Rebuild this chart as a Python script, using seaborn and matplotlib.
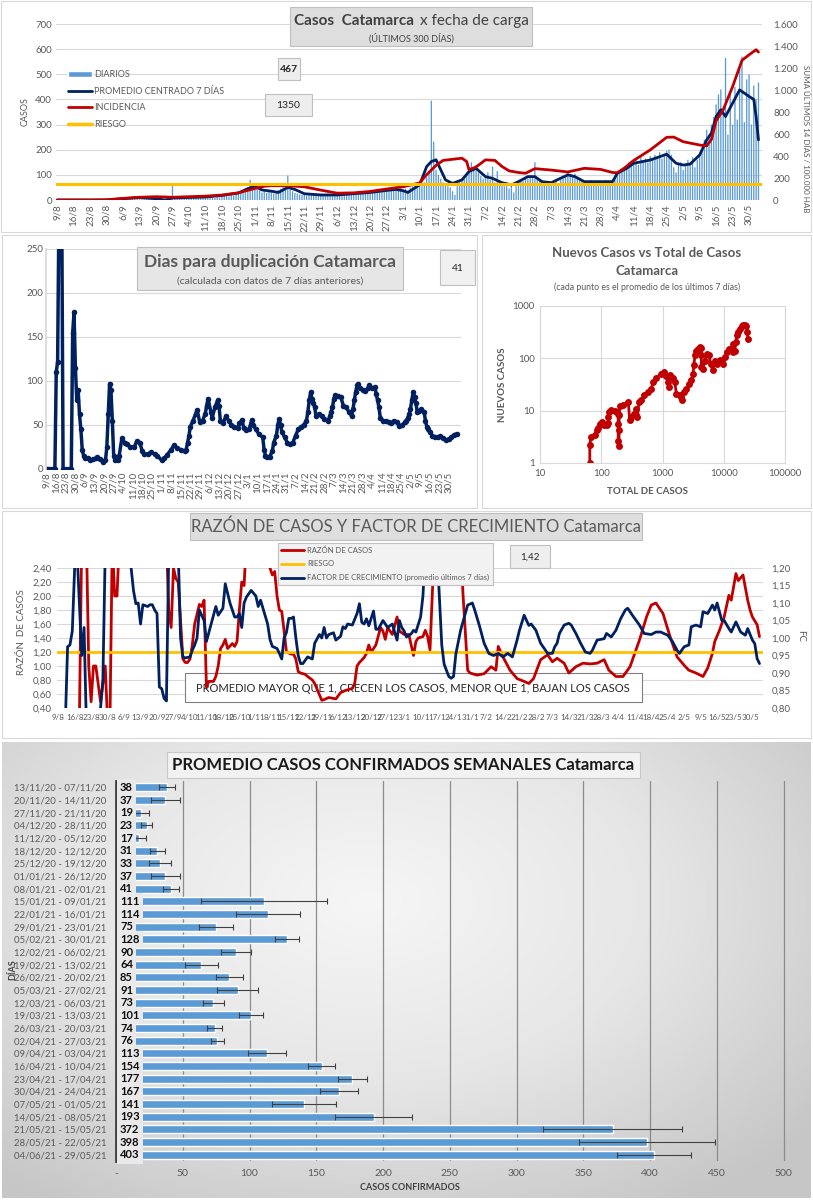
import numpy as np
import pandas as pd
import matplotlib
matplotlib.use('Agg')
import matplotlib.pyplot as plt
import seaborn as sns
from matplotlib.patches import Rectangle, Patch
from matplotlib.lines import Line2D
from matplotlib.colors import LinearSegmentedColormap
from matplotlib.ticker import FuncFormatter

# ---------------- datos ----------------
inicio = '2020-08-09'   # dia 0 = 9/8

# casos diarios (una fila por semana, desde 9/8)
diarios = [
    0, 0, 0, 0, 1, 0, 0,
    0, 0, 0, 1, 0, 0, 0,
    0, 0, 1, 0, 0, 0, 0,
    1, 0, 2, 3, 5, 4, 6,
    8, 5, 6, 4, 7, 9, 6,
    10, 12, 8, 9, 14, 11, 15,
    12, 9, 6, 4, 3, 5, 8,
    62, 10, 12, 14, 9, 11, 13,
    8, 10, 12, 9, 11, 13, 10,
    12, 9, 14, 11, 8, 13, 10,
    15, 18, 20, 14, 22, 19, 24,
    28, 32, 30, 45, 52, 80, 55,
    60, 42, 38, 30, 35, 28, 33,
    30, 25, 36, 40, 45, 52, 48,
    97, 40, 35, 28, 25, 22, 20,
    24, 18, 22, 20, 19, 23, 17,
    20, 18, 21, 25, 19, 22, 20,
    18, 24, 22, 20, 26, 23, 28,
    30, 25, 28, 32, 27, 35, 30,
    33, 38, 30, 35, 40, 36, 38,
    42, 35, 40, 48, 65, 38, 45,
    40, 45, 38, 50, 55, 60, 70,
    60, 55, 70, 90, 110, 395, 232,
    120, 100, 85, 70, 60, 55, 50,
    35, 20, 55, 70, 80, 95, 110,
    130, 150, 120, 140, 110, 95, 85,
    90, 110, 80, 133, 70, 115, 65,
    60, 55, 70, 45, 60, 30, 55,
    65, 80, 75, 90, 85, 100, 95,
    150, 90, 85, 80, 75, 70, 60,
    65, 70, 75, 60, 80, 85, 95,
    110, 95, 100, 105, 90, 85, 80,
    75, 70, 65, 80, 72, 68, 78,
    70, 75, 80, 68, 72, 60, 85,
    100, 110, 120, 130, 125, 150, 140,
    145, 160, 140, 170, 155, 165, 150,
    175, 160, 180, 170, 190, 165, 185,
    195, 200, 180, 130, 110, 140, 150,
    120, 140, 160, 150, 170, 130, 160,
    180, 200, 240, 280, 260, 300, 330,
    380, 420, 440, 350, 565, 260, 420,
    300, 450, 320, 520, 570, 310, 480,
    500, 300, 455, 400, 467]

# promedio centrado 7 dias (eje izquierdo)
prom_dia = [0, 21, 28, 35, 42, 46, 49, 56, 63, 70,
            77, 81, 84, 87, 91, 94, 98, 101, 105, 112,
            119, 126, 133, 140, 144, 147, 149, 154, 157, 159,
            161, 163, 165, 168, 172, 175, 178, 182, 185, 189,
            193, 196, 200, 203, 206, 210, 217, 220, 224, 231,
            236, 238, 242, 245, 252, 259, 263, 266, 269, 273,
            276, 278, 280, 282, 284, 287, 290, 292, 294, 296,
            297, 298]
prom_val = [0, 0, 5, 10, 5, 0, 8, 10, 12, 18,
            28, 45, 55, 40, 35, 30, 50, 42, 25, 20,
            20, 25, 30, 38, 42, 37, 30, 60, 133, 153,
            160, 120, 80, 66, 80, 113, 126, 93, 86, 69,
            60, 73, 93, 93, 73, 69, 100, 93, 73, 73,
            73, 106, 126, 146, 159, 182, 146, 139, 143, 179,
            239, 266, 332, 359, 332, 385, 438, 425, 412, 400,
            332, 239]

# incidencia 14 dias / 100.000 hab (eje derecho)
inc_dia = [0, 14, 21, 28, 35, 42, 49, 56, 63, 70,
           77, 84, 88, 91, 98, 105, 112, 119, 126, 133,
           140, 147, 154, 157, 161, 164, 168, 172, 174, 175,
           178, 182, 186, 189, 192, 196, 199, 203, 210, 217,
           224, 231, 236, 238, 241, 245, 252, 259, 262, 266,
           273, 276, 278, 280, 283, 287, 291, 294, 297, 298]
inc_val = [0, 0, 2, 15, 25, 30, 25, 30, 35, 45,
           65, 105, 125, 130, 130, 120, 90, 62, 65, 78,
           100, 120, 155, 230, 315, 360, 370, 380, 350, 275,
           300, 365, 360, 305, 265, 250, 243, 285, 272, 255,
           288, 278, 250, 248, 290, 360, 455, 570, 572, 530,
           500, 492, 550, 720, 820, 1030, 1270, 1320, 1366, 1345]
riesgo_inc = 150

# dias para duplicacion
dup_dia = [0, 2, 4, 6, 7, 8, 9, 11, 12, 14,
           16, 18, 19, 20, 21, 22, 23, 24, 25, 26,
           27, 28, 30, 32, 34, 36, 37, 39, 41, 43,
           44, 45, 46, 47, 48, 49, 50, 52, 53, 55,
           57, 59, 61, 64, 66, 68, 70, 71, 74, 76,
           79, 81, 84, 86, 88, 91, 93, 95, 98, 101,
           102, 103, 104, 105, 107, 109, 110, 112, 114, 116,
           117, 118, 120, 121, 123, 125, 126, 127, 129, 131,
           133, 135, 137, 140, 141, 143, 144, 146, 148, 150,
           151, 153, 155, 158, 159, 160, 161, 163, 165, 166,
           168, 169, 170, 171, 172, 174, 176, 178, 180, 182,
           184, 186, 188, 190, 191, 192, 193, 194, 195, 196,
           197, 199, 201, 203, 206, 207, 208, 209, 210, 211,
           213, 215, 217, 219, 221, 223, 224, 225, 226, 227,
           228, 229, 231, 233, 235, 236, 238, 240, 241, 242,
           243, 244, 246, 248, 250, 252, 254, 256, 258, 260,
           262, 263, 264, 265, 266, 267, 268, 269, 270, 271,
           272, 274, 276, 277, 278, 279, 280, 282, 284, 286,
           288, 290, 292, 294, 296, 298, 300]
dup_val = [0, 0, 0, 0, 110, 122, 300, 300, 0, 0,
           0, 0, 155, 178, 115, 78, 90, 62, 45, 22,
           15, 13, 12, 10, 11, 12, 14, 11, 8, 10,
           25, 62, 97, 90, 55, 15, 10, 10, 15, 35,
           30, 28, 25, 25, 32, 30, 20, 17, 17, 19,
           17, 15, 10, 12, 16, 22, 27, 24, 22, 20,
           22, 30, 37, 48, 55, 63, 67, 53, 55, 63,
           72, 80, 65, 58, 70, 78, 72, 55, 52, 60,
           55, 50, 48, 47, 52, 56, 47, 44, 45, 56,
           50, 45, 40, 36, 22, 15, 14, 14, 20, 30,
           38, 50, 57, 50, 42, 36, 30, 28, 30, 38,
           45, 48, 50, 55, 65, 78, 87, 80, 75, 70,
           60, 62, 60, 57, 55, 60, 65, 70, 80, 84,
           83, 82, 72, 70, 65, 60, 68, 78, 88, 95,
           97, 92, 90, 89, 92, 95, 92, 93, 85, 78,
           70, 58, 55, 54, 53, 52, 55, 53, 49, 50,
           53, 55, 58, 62, 68, 78, 87, 82, 75, 65,
           66, 68, 65, 55, 48, 45, 42, 38, 36, 36,
           37, 35, 33, 34, 36, 39, 40]

# nuevos casos vs total
total_casos = [65, 65, 68, 79, 84, 89, 95, 101, 110, 122,
               130, 130, 134, 147, 167, 189, 189, 189, 194, 196,
               196, 201, 228, 276, 292, 311, 340, 375, 375, 386,
               415, 452, 500, 583, 660, 701, 796, 963, 1051, 1162,
               1237, 1264, 1341, 1490, 1583, 1689, 1908, 2034, 2100, 2213,
               2436, 2727, 2963, 3163, 3237, 3398, 3500, 3800, 4145, 4300,
               4300, 4300, 4560, 4850, 5230, 5750, 6110, 6660, 7090, 7770,
               8580, 9200, 9800, 10400, 11100, 12300, 13400, 14300, 14300, 15200,
               15700, 16500, 17100, 18300, 19500, 20600, 21900, 23300, 24100, 24800]
nuevos_casos = [1, 2.24, 3.1, 3.4, 4.2, 4.7, 5.6, 6.1, 5.4, 5.4,
                5.9, 7.6, 9.4, 10.1, 9.8, 8.8, 5.6, 2.6, 2.1, 4.2,
                8.1, 12.3, 13, 14.6, 6.5, 7.6, 8.8, 8.4, 10.9, 7.6,
                14.6, 15.8, 20, 22.7, 26.3, 35.3, 42, 51, 55, 46,
                35, 28, 47, 42, 35, 21, 19.6, 18, 15.8, 22.7,
                26, 33, 38, 51, 73, 114, 141, 148, 165, 160,
                114, 68, 63, 87, 122, 114, 79, 59, 87, 79,
                92, 85, 79, 106, 132, 148, 153, 191, 135, 141,
                204, 275, 318, 369, 414, 426, 426, 414, 318, 238]

# razon de casos (eje izq.) y factor de crecimiento (eje der.)
razon_dia = [9, 10, 12, 13, 14, 15, 16, 18, 20, 21,
             22, 23, 24, 25, 26, 45, 46, 47, 48, 49,
             50, 51, 53, 54, 55, 56, 57, 58, 60, 61,
             62, 63, 64, 66, 67, 68, 69, 70, 71, 72,
             74, 75, 76, 77, 78, 79, 80, 89, 90, 91,
             92, 93, 94, 95, 96, 97, 99, 100, 101, 102,
             103, 105, 106, 108, 109, 112, 113, 115, 118, 120,
             122, 125, 126, 127, 128, 130, 131, 132, 133, 135,
             137, 138, 139, 140, 142, 144, 145, 147, 149, 151,
             152, 153, 155, 156, 157, 158, 159, 160, 171, 172,
             174, 175, 178, 181, 184, 186, 187, 189, 192, 195,
             198, 200, 202, 205, 208, 210, 212, 215, 217, 220,
             223, 226, 229, 232, 234, 237, 240, 243, 245, 247,
             250, 252, 254, 257, 260, 263, 266, 268, 271, 274,
             276, 278, 279, 281, 283, 285, 286, 288, 289, 291,
             293, 294, 295, 297, 298]
razon_val = [0.2, 2.8, 2.8, 1.0, 0.49, 1.0, 1.0, 0.49, 1.0, 0.2,
             0.2, 2.8, 2.0, 2.0, 2.8, 2.8, 2.8, 1.78, 1.55, 2.4,
             2.25, 2.2, 1.1, 1.05, 1.05, 1.1, 1.3, 1.6, 1.88, 1.85,
             1.94, 0.7, 0.78, 0.78, 0.85, 1.0, 1.25, 1.3, 1.38, 1.25,
             1.32, 1.28, 1.35, 1.8, 2.2, 2.15, 2.8, 2.8, 2.4, 2.3,
             2.35, 2.0, 1.8, 1.78, 1.5, 1.2, 1.17, 1.17, 1.1, 0.92,
             0.9, 0.88, 0.85, 0.8, 0.75, 0.51, 0.52, 0.55, 0.53, 0.62,
             0.65, 0.68, 0.75, 1.0, 1.05, 1.12, 1.18, 1.3, 1.2, 1.3,
             1.55, 1.5, 1.38, 1.55, 1.45, 1.7, 1.5, 1.45, 1.45, 1.15,
             1.35, 1.4, 1.42, 1.51, 1.42, 1.23, 2.04, 2.8, 2.8, 2.04,
             0.94, 0.9, 0.87, 0.89, 0.99, 0.94, 1.28, 1.13, 0.94, 0.82,
             0.78, 0.75, 0.82, 1.09, 1.16, 1.06, 1.11, 1.04, 0.9, 0.99,
             1.04, 1.03, 1.04, 1.09, 0.94, 0.85, 0.85, 0.99, 1.18, 1.37,
             1.7, 1.87, 1.9, 1.75, 1.42, 1.13, 1.01, 0.94, 0.9, 0.85,
             0.97, 1.18, 1.35, 1.51, 1.7, 2.01, 1.94, 2.32, 2.22, 2.3,
             1.94, 1.8, 1.7, 1.59, 1.42]
fc_dia = [3, 4, 5, 6, 7, 8, 9, 10, 11, 12,
          17, 18, 19, 20, 30, 31, 32, 33, 34, 35,
          36, 38, 39, 40, 41, 42, 43, 44, 45, 46,
          47, 51, 52, 53, 54, 56, 57, 58, 59, 60,
          62, 63, 64, 65, 67, 68, 70, 71, 73, 75,
          76, 77, 78, 79, 80, 82, 84, 85, 86, 89,
          90, 91, 93, 94, 95, 96, 97, 98, 99, 100,
          101, 102, 103, 104, 106, 108, 109, 111, 112, 113,
          114, 115, 117, 118, 120, 121, 122, 123, 125, 127,
          128, 129, 130, 131, 132, 134, 135, 136, 138, 140,
          142, 143, 144, 145, 146, 147, 148, 150, 151, 152,
          154, 155, 156, 161, 163, 164, 166, 167, 168, 169,
          171, 174, 176, 177, 179, 181, 183, 185, 187, 189,
          191, 193, 195, 196, 198, 200, 201, 203, 205, 208,
          210, 211, 212, 213, 215, 217, 218, 220, 222, 224,
          226, 227, 229, 232, 233, 235, 237, 239, 241, 242,
          244, 247, 249, 252, 254, 256, 259, 261, 263, 264,
          266, 268, 269, 271, 273, 274, 276, 278, 279, 280,
          282, 283, 285, 286, 288, 290, 292, 293, 295, 296,
          297, 298]
fc_val = [0.75, 0.975, 0.98, 1.02, 1.2, 1.25, 1.1, 0.95, 1.03, 0.75,
          0.75, 0.8, 0.88, 1.25, 1.25, 1.2, 1.136, 1.098, 1.1, 1.04,
          1.095, 1.09, 1.095, 1.095, 1.08, 1.07, 0.86, 0.855, 0.828, 0.82,
          1.25, 1.25, 1.0, 0.946, 0.943, 0.946, 0.965, 0.98, 1.0, 1.08,
          1.05, 0.99, 1.015, 1.04, 1.09, 1.065, 1.085, 1.155, 1.1, 1.06,
          1.06, 1.07, 1.03, 1.1, 1.117, 1.136, 1.12, 1.09, 1.108, 1.04,
          0.996, 0.976, 0.97, 0.956, 0.94, 1.0, 1.016, 1.056, 1.056, 1.06,
          1.0, 0.95, 0.927, 0.927, 0.946, 0.94, 0.985, 1.01, 1.0, 1.03,
          1.0, 1.01, 1.015, 0.994, 1.005, 1.032, 1.027, 1.04, 1.037, 1.07,
          1.098, 1.045, 1.04, 1.055, 1.035, 1.077, 1.025, 1.025, 1.05, 1.03,
          1.04, 1.016, 0.994, 1.05, 1.03, 1.02, 1.003, 1.012, 1.022, 1.017,
          1.06, 1.12, 1.25, 1.25, 0.98, 0.925, 0.89, 0.885, 0.89, 0.955,
          1.022, 1.094, 1.1, 1.08, 1.035, 0.985, 0.956, 0.95, 0.956, 0.946,
          0.956, 0.946, 0.994, 1.022, 1.065, 1.036, 1.04, 1.022, 0.985, 0.956,
          0.956, 0.975, 0.985, 1.013, 1.037, 1.042, 1.037, 1.013, 0.985, 0.96,
          0.956, 0.965, 0.994, 0.998, 1.013, 1.003, 1.022, 1.055, 1.08, 1.085,
          1.065, 1.037, 1.013, 1.01, 1.017, 1.017, 1.008, 0.99, 0.965, 0.956,
          0.975, 0.98, 1.032, 1.037, 1.032, 1.075, 1.07, 1.094, 1.08, 1.1,
          1.05, 1.05, 1.027, 1.017, 1.046, 1.017, 1.008, 1.027, 0.994, 0.984,
          0.941, 0.927]
riesgo_razon = 1.20

# promedio semanal
semanas = ['13/11/20 - 07/11/20', '20/11/20 - 14/11/20', '27/11/20 - 21/11/20',
           '04/12/20 - 28/11/20', '11/12/20 - 05/12/20', '18/12/20 - 12/12/20',
           '25/12/20 - 19/12/20', '01/01/21 - 26/12/20', '08/01/21 - 02/01/21',
           '15/01/21 - 09/01/21', '22/01/21 - 16/01/21', '29/01/21 - 23/01/21',
           '05/02/21 - 30/01/21', '12/02/21 - 06/02/21', '19/02/21 - 13/02/21',
           '26/02/21 - 20/02/21', '05/03/21 - 27/02/21', '12/03/21 - 06/03/21',
           '19/03/21 - 13/03/21', '26/03/21 - 20/03/21', '02/04/21 - 27/03/21',
           '09/04/21 - 03/04/21', '16/04/21 - 10/04/21', '23/04/21 - 17/04/21',
           '30/04/21 - 24/04/21', '07/05/21 - 01/05/21', '14/05/21 - 08/05/21',
           '21/05/21 - 15/05/21', '28/05/21 - 22/05/21', '04/06/21 - 29/05/21']
promedio = [38, 37, 19, 23, 17, 31, 33, 37, 41, 111, 114, 75, 128, 90, 64,
            85, 91, 73, 101, 74, 76, 113, 154, 177, 167, 141, 193, 372, 398, 403]
error = [6, 11, 6, 4, 5.5, 5.5, 8, 11, 6, 47, 24, 12.5, 9, 11, 12.5,
         10, 15, 8, 9, 5.6, 5, 14, 10, 11, 14, 24, 29, 52, 51, 28]

# ---------------- estilo ----------------
sns.set_theme(style='white')
plt.rcParams['font.family'] = ['Lato', 'DejaVu Sans']

GRIS = '#595959'
AZUL = '#5b9bd5'
MARINO = '#002060'
ROJO = '#c00000'
AMARILLO = '#ffc000'
GRILLA = '#d9d9d9'

W, H = 813, 1200
fig = plt.figure(figsize=(W / 100, H / 100), dpi=100)


def px_axes(x0, y0, x1, y1):
    return fig.add_axes([x0 / W, 1 - y1 / H, (x1 - x0) / W, (y1 - y0) / H])


def caja(x0, y0, x1, y1, fc, ec='#bfbfbf', z=2):
    fig.patches.append(Rectangle((x0 / W, 1 - y1 / H), (x1 - x0) / W, (y1 - y0) / H,
                                 transform=fig.transFigure, fc=fc, ec=ec, lw=0.8, zorder=z))


def texto(x, y, s, **kw):
    kw.setdefault('ha', 'center')
    kw.setdefault('va', 'center')
    fig.text(x / W, 1 - y / H, s, **kw)


miles = FuncFormatter(lambda v, p: f'{v:,.0f}'.replace(',', '.'))
coma2 = FuncFormatter(lambda v, p: f'{v:.2f}'.replace('.', ','))

semana_tick = np.arange(0, 295, 7)
fechas = pd.Timestamp(inicio) + pd.to_timedelta(semana_tick, unit='D')
etiq_fecha = [f'{d.day}/{d.month}' for d in fechas]

# bordes de los paneles
for b in [(1, 1, 811, 232), (2, 235, 477, 508), (482, 235, 811, 508), (2, 511, 811, 738)]:
    caja(*b, fc='none', ec=GRILLA, z=1)

# ---------------- panel 1: casos diarios ----------------
ax1 = px_axes(56, 24, 762, 200)
ax1.bar(np.arange(len(diarios)), diarios, width=0.55, color=AZUL, lw=0, snap=False, zorder=2)
sns.lineplot(x=prom_dia, y=prom_val, ax=ax1, color=MARINO, lw=2, zorder=3)
ax1.set_xlim(-0.5, 299.5)
ax1.set_ylim(0, 700)
ax1.set_yticks(range(0, 701, 100))
ax1.grid(axis='y', color=GRILLA, lw=0.8)
ax1.set_axisbelow(True)
ax1.set_xticks(semana_tick)
ax1.set_xticklabels(etiq_fecha, rotation=90, fontsize=6.5, color=GRIS)
ax1.tick_params(axis='both', length=0, labelsize=7, labelcolor=GRIS, pad=3)
for s in ax1.spines.values():
    s.set_visible(False)
ax1.set_ylabel('CASOS', fontsize=6.5, color=GRIS, labelpad=4)

ax1r = ax1.twinx()
sns.lineplot(x=inc_dia, y=inc_val, ax=ax1r, color=ROJO, lw=2)
ax1r.axhline(riesgo_inc, color=AMARILLO, lw=2.2)
ax1r.set_ylim(0, 1600)
ax1r.set_yticks(range(0, 1601, 200))
ax1r.yaxis.set_major_formatter(miles)
ax1r.tick_params(axis='y', length=0, labelsize=7, labelcolor=GRIS, pad=8)
ax1r.grid(False)
for s in ax1r.spines.values():
    s.set_visible(False)

h1 = [Patch(fc=AZUL), Line2D([], [], color=MARINO, lw=2),
      Line2D([], [], color=ROJO, lw=2), Line2D([], [], color=AMARILLO, lw=2.5)]
fig.legend(h1, ['DIARIOS', 'PROMEDIO CENTRADO 7 DÍAS', 'INCIDENCIA', 'RIESGO'],
           loc='upper left', bbox_to_anchor=(60 / W, 1 - 62 / H), frameon=False,
           fontsize=6.5, labelcolor=GRIS, handlelength=2.6, labelspacing=0.85,
           handletextpad=0.3)

caja(290, 7, 532, 46, '#dedede')
texto(414, 21, 'Casos  Catamarca', ha='right', fontsize=11, fontweight='bold', color='#404040', zorder=5)
texto(420, 21, 'x fecha de carga', ha='left', fontsize=11, color='#404040', zorder=5)
texto(411, 38, '(ÚLTIMOS 300 DÍAS)', fontsize=6.5, color='#404040', zorder=5)
caja(278, 58, 300, 80, '#eeeeee')
texto(289, 69, '467', fontsize=7.5, fontweight='bold', color='#262626', zorder=5)
caja(265, 94, 312, 116, '#eeeeee')
texto(288.5, 105, '1350', fontsize=7.5, color='#262626', zorder=5)
texto(806, 139, 'SUMA ÚLTIMOS 14 DÍAS / 100.000 HAB', rotation=-90, fontsize=5.8, color=GRIS)

# ---------------- panel 2: dias para duplicacion ----------------
ax2 = px_axes(46, 249, 461, 469)
sns.lineplot(x=dup_dia, y=dup_val, ax=ax2, color=MARINO, lw=2.5, marker='o',
             markersize=4, markeredgewidth=0)
ax2.set_xlim(-0.5, 303)
ax2.set_ylim(0, 250)
ax2.set_yticks(range(0, 251, 50))
ax2.grid(axis='y', color=GRILLA, lw=0.8)
ax2.set_axisbelow(True)
ax2.set_xticks(semana_tick)
ax2.set_xticklabels(etiq_fecha, rotation=90, fontsize=6, color=GRIS)
ax2.tick_params(axis='both', length=0, labelsize=7, labelcolor=GRIS, pad=2)
for s in ax2.spines.values():
    s.set_visible(False)
ax2.spines['left'].set_visible(True)
ax2.spines['left'].set_color(GRILLA)

caja(137, 247, 403, 290, '#e6e6e6')
texto(270, 262, 'Dias para duplicación Catamarca', fontsize=12.5, fontweight='bold', color=GRIS, zorder=5)
texto(270, 281, '(calculada con datos de 7 días anteriores)', fontsize=7.5, color=GRIS, zorder=5)
caja(440, 250, 475, 285, '#f0f0f0')
texto(457.5, 268, '41', fontsize=7.5, color='#262626', zorder=5)

# ---------------- panel 3: nuevos vs total ----------------
ax3 = px_axes(540, 306, 785, 463)
sns.lineplot(x=total_casos, y=nuevos_casos, ax=ax3, sort=False, estimator=None,
             color=ROJO, lw=2, marker='o', markersize=5, markeredgewidth=0)
ax3.set_xscale('log')
ax3.set_yscale('log')
ax3.set_xlim(10, 1e5)
ax3.set_ylim(1, 1000)
ax3.minorticks_off()
fmt_log = FuncFormatter(lambda v, p: f'{v:.0f}')
ax3.xaxis.set_major_formatter(fmt_log)
ax3.yaxis.set_major_formatter(fmt_log)
ax3.grid(True, color=GRILLA, lw=0.8)
ax3.tick_params(axis='both', length=0, labelsize=7, labelcolor=GRIS, pad=4)
for s in ax3.spines.values():
    s.set_color(GRILLA)
    s.set_linewidth(0.8)
texto(647, 253, 'Nuevos Casos vs Total de Casos', fontsize=9.5, fontweight='bold', color=GRIS)
texto(647, 271, 'Catamarca', fontsize=9.5, fontweight='bold', color=GRIS)
texto(647, 287, '(cada punto es el promedio de los últimos 7 días)', fontsize=6.3, color=GRIS)
texto(647, 492, 'TOTAL DE CASOS', fontsize=7, fontweight='bold', color=GRIS)
texto(502, 385, 'NUEVOS CASOS', rotation=90, fontsize=7, fontweight='bold', color=GRIS)

# ---------------- panel 4: razon y factor ----------------
ax4 = px_axes(57, 568, 763, 708)
sns.lineplot(x=razon_dia, y=razon_val, ax=ax4, color=ROJO, lw=2, zorder=2)
ax4.axhline(riesgo_razon, color=AMARILLO, lw=2, zorder=2.5)
ax4.set_xlim(-0.5, 299.5)
ax4.set_ylim(0.4, 2.4)
ax4.set_yticks(np.arange(0.4, 2.41, 0.2))
ax4.yaxis.set_major_formatter(coma2)
ax4.grid(axis='y', color=GRILLA, lw=0.8)
ax4.set_axisbelow(True)
ax4.set_xticks(semana_tick)
ax4.set_xticklabels(etiq_fecha, fontsize=5.8, color=GRIS)
ax4.tick_params(axis='x', length=0, pad=4)
ax4.tick_params(axis='y', length=0, labelsize=7, labelcolor=GRIS, pad=4)
for s in ax4.spines.values():
    s.set_visible(False)
ax4.add_patch(Rectangle((185 / W, 1 - 702 / H), 457 / W, 29 / H, transform=fig.transFigure,
                        fc='white', ec='#7f7f7f', lw=0.8, zorder=1.5, clip_on=False))
ax4.text(413 / W, 1 - 688 / H, 'PROMEDIO MAYOR QUE 1, CRECEN LOS CASOS, MENOR QUE 1, BAJAN LOS CASOS',
         transform=fig.transFigure, ha='center', va='center', fontsize=8, color='#262626', zorder=1.6)

ax4r = ax4.twinx()
sns.lineplot(x=fc_dia, y=fc_val, ax=ax4r, color=MARINO, lw=2)
ax4r.set_ylim(0.8, 1.2)
ax4r.set_yticks(np.arange(0.8, 1.201, 0.05))
ax4r.yaxis.set_major_formatter(coma2)
ax4r.tick_params(axis='y', length=0, labelsize=7, labelcolor=GRIS, pad=6)
ax4r.grid(False)
for s in ax4r.spines.values():
    s.set_visible(False)

h4 = [Line2D([], [], color=ROJO, lw=2), Line2D([], [], color=AMARILLO, lw=2),
      Line2D([], [], color=MARINO, lw=2)]
lg4 = fig.legend(h4, ['RAZÓN DE CASOS', 'RIESGO', 'FACTOR DE CRECIMIENTO (promedio últimos 7 días)'],
                 loc='upper left', bbox_to_anchor=(278 / W, 1 - 595 / H, 215 / W, 52 / H),
                 mode='expand', borderaxespad=0, fontsize=5.5, labelcolor=GRIS,
                 handlelength=3, labelspacing=0.9, handletextpad=0.4, fancybox=False,
                 framealpha=1, facecolor='#f2f2f2', edgecolor='#bfbfbf')
lg4.get_frame().set_linewidth(0.8)

caja(190, 513, 642, 540, '#dedede')
texto(416, 527, 'RAZÓN DE CASOS Y FACTOR DE CRECIMIENTO Catamarca', fontsize=12, color=GRIS, zorder=5)
caja(510, 545, 550, 568, '#eeeeee')
texto(530, 557, '1,42', fontsize=7, color='#262626', zorder=5)
texto(22, 632, 'RAZÓN  DE CASOS', rotation=90, fontsize=7, color=GRIS)
texto(801, 636, 'FC', rotation=-90, fontsize=7, color=GRIS)

# ---------------- panel 5: promedio semanal ----------------
axbg = px_axes(2, 742, 811, 1198)
yy, xx = np.mgrid[0:1:200j, 0:1:200j]
radio = np.sqrt(((xx - 0.45) / 0.75) ** 2 + ((yy - 0.35) / 0.85) ** 2)
degradado = LinearSegmentedColormap.from_list('deg', ['#f6f6f6', '#e6e6e6', '#c6c6c6'])
axbg.imshow(radio, cmap=degradado, vmin=0, vmax=0.95, aspect='auto', extent=(0, 1, 0, 1))
axbg.axis('off')

ax5 = px_axes(116, 781, 790, 1161)
ax5.set_facecolor('none')
sns.barplot(x=promedio, y=semanas, orient='h', color=AZUL, saturation=1, width=0.62,
            errorbar=None, ax=ax5, zorder=2)
ax5.errorbar(promedio, np.arange(len(promedio)), xerr=error, fmt='none', ecolor='#404040',
             elinewidth=0.8, capsize=2, capthick=0.8, zorder=3)
for i, v in enumerate(promedio):
    ax5.text(3, i, str(v), ha='left', va='center', fontsize=8, fontweight='bold', color='#0d0d0d',
             zorder=4, bbox=dict(fc='#e9e9e9', ec='none', pad=2.4))
ax5.set_xlim(0, 504.8)
ax5.set_ylim(len(promedio) - 0.5, -0.5)
ax5.set_xticks(range(0, 501, 50))
ax5.set_xticklabels(['-'] + [str(v) for v in range(50, 501, 50)])
ax5.grid(axis='x', color='#8c8c8c', lw=0.9)
ax5.set_axisbelow(True)
ax5.tick_params(axis='x', length=0, labelsize=7.5, labelcolor=GRIS, pad=6)
ax5.tick_params(axis='y', length=0, labelsize=6.9, labelcolor=GRIS, pad=7)
for s in ax5.spines.values():
    s.set_visible(False)
ax5.spines['left'].set_visible(True)
ax5.spines['left'].set_color('#404040')
ax5.spines['left'].set_linewidth(2)
ax5.set_xlabel('')
ax5.set_ylabel('')

caja(167, 752, 640, 778, '#f2f2f2', '#c8c8c8')
texto(403, 765, 'PROMEDIO CASOS CONFIRMADOS SEMANALES Catamarca', fontsize=12,
      fontweight='bold', color='#1a1a1a', zorder=5)
texto(410, 1188, 'CASOS CONFIRMADOS', fontsize=6.5, fontweight='bold', color='#404040')
texto(13, 970, 'DÍAS', rotation=90, fontsize=6.5, fontweight='bold', color='#404040')

fig.savefig('out.png', dpi=100)
